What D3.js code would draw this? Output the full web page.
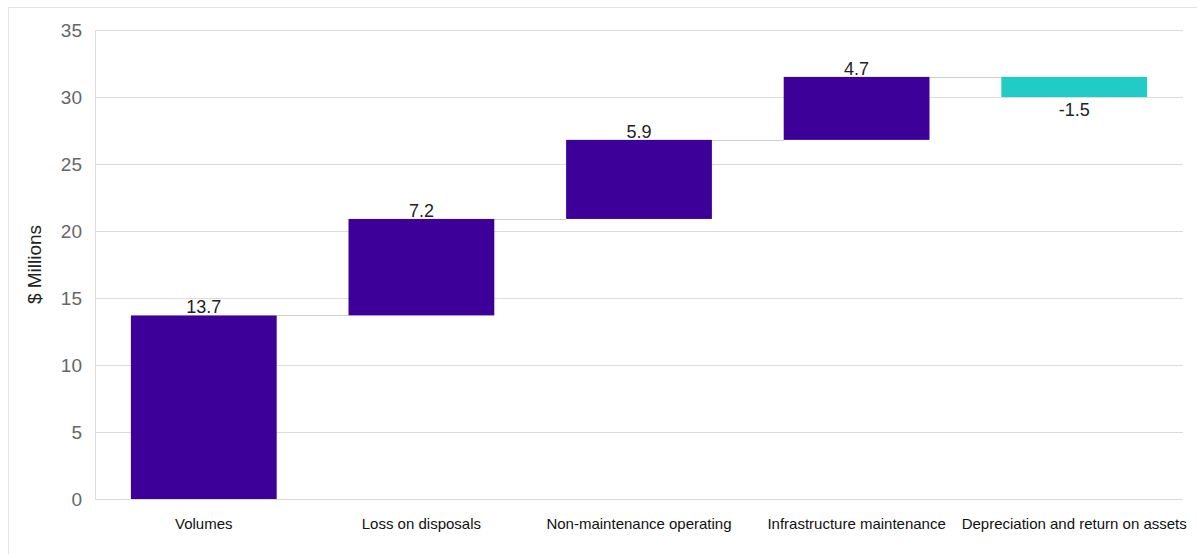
<!DOCTYPE html>
<html><head><meta charset="utf-8">
<script src="https://cdn.jsdelivr.net/npm/d3@7/dist/d3.min.js"></script>
<style>body{margin:0;background:#fff;}svg{display:block;font-family:Arial,"Liberation Sans",sans-serif;}</style>
</head><body>
<svg id="c" width="1197" height="554"></svg>
<script>
const categories = ["Volumes","Loss on disposals","Non-maintenance operating","Infrastructure maintenance","Depreciation and return on assets"];
const changes = [13.7, 7.2, 5.9, 4.7, -1.5];
const valueLabels = ["13.7","7.2","5.9","4.7","-1.5"];
const yTicks = [0,5,10,15,20,25,30,35];

const svg = d3.select("#c");
const W = 1197, H = 554;
const m = {left:95, right:14, top:30, bottom:55};

// outer frame
svg.append("rect").attr("x",8.5).attr("y",7.5).attr("width",W).attr("height",H)
  .attr("fill","none").attr("stroke","#e4e4e4");

const x = d3.scaleBand().domain(categories).range([m.left, W-m.right]).paddingInner(0.33).paddingOuter(0.165);
const y = d3.scaleLinear().domain([0,35]).range([H-m.bottom, m.top]);

let cum = 0;
const data = categories.map((c,i)=>{const s=cum; cum+=changes[i]; return {c, start:s, end:cum, v:changes[i], label:valueLabels[i]};});

// gridlines
svg.append("g").selectAll("line").data(yTicks).join("line")
  .attr("x1",m.left).attr("x2",W-m.right)
  .attr("y1",d=>Math.round(y(d))+0.5).attr("y2",d=>Math.round(y(d))+0.5)
  .attr("stroke","#dcdcdc");
svg.append("line").attr("x1",m.left+0.5).attr("x2",m.left+0.5).attr("y1",y(35)).attr("y2",y(0)).attr("stroke","#dcdcdc");

// y axis labels
const ya = svg.append("g").attr("transform",`translate(${m.left-13},0)`)
  .call(d3.axisLeft(y).tickValues(yTicks).tickSize(0).tickPadding(0));
ya.select(".domain").remove();
ya.selectAll("text").attr("font-size",19).attr("fill","#666").attr("font-family","Arial,'Liberation Sans',sans-serif").attr("dy","0.34em");

// connectors
svg.append("g").selectAll("line").data(data.slice(0,-1)).join("line")
  .attr("x1",d=>x(d.c)+x.bandwidth()).attr("x2",(d,i)=>x(categories[i+1]))
  .attr("y1",d=>Math.round(y(d.end))+0.5).attr("y2",d=>Math.round(y(d.end))+0.5)
  .attr("stroke","#cfcfcf");

// bars
svg.append("g").selectAll("rect").data(data).join("rect")
  .attr("x",d=>x(d.c)).attr("width",x.bandwidth())
  .attr("y",d=>y(Math.max(d.start,d.end))).attr("height",d=>Math.abs(y(d.start)-y(d.end)))
  .attr("fill",d=>d.v>=0?"#3d0099":"#22ccc6");

// value labels
svg.append("g").selectAll("text").data(data).join("text")
  .attr("x",d=>x(d.c)+x.bandwidth()/2)
  .attr("y",d=>d.v>=0? y(d.end)-2 : y(d.end)+19)
  .attr("text-anchor","middle").attr("font-size",18).attr("fill","#222")
  .text(d=>d.label);

// x axis labels
svg.append("g").selectAll("text").data(categories).join("text")
  .attr("x",d=>x(d)+x.bandwidth()/2).attr("y",y(0)+30)
  .attr("text-anchor","middle").attr("font-size",15).attr("fill","#111")
  .text(d=>d);

// y title
svg.append("text").attr("transform",`translate(41,${(y(0)+y(35))/2}) rotate(-90)`)
  .attr("text-anchor","middle").attr("font-size",19).attr("fill","#222").text("$ Millions");
</script>
</body></html>
